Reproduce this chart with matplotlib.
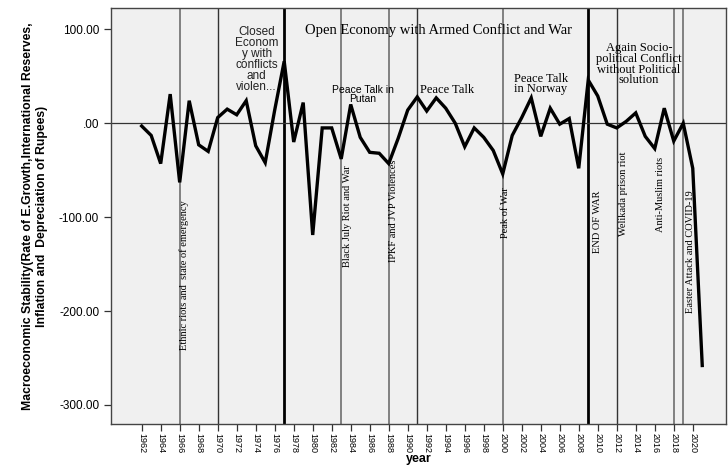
import numpy as np
import matplotlib
matplotlib.use('Agg')
import matplotlib.pyplot as plt

# Данные: годы и индекс макроэкономической стабильности
years = np.arange(1962, 2022)
stability = [-3, -13, -43, 31, -63, 24, -23, -30, 6, 15,
             9, 24, -24, -42, 14, 66, -20, 22, -119, -5,
             -5, -38, 20, -15, -31, -32, -43, -16, 14, 28,
             13, 27, 16, 0, -25, -5, -15, -29, -54, -13,
             6, 27, -14, 16, -1, 5, -48, 46, 29, -1,
             -5, 2, 11, -14, -27, 16, -19, 0, -48, -258]

# Подписанные события (вертикальные линии с текстом)
event_years = [1966, 1983, 1988, 2000, 2009, 2012, 2018, 2019]
event_labels = ['Ethnic riots and  state of emergency', 'Black July Riot and War',
                'IPKF and JVP Violences', 'Peak of War', 'END OF WAR',
                'Welikada prison riot', 'Anti-Muslim riots', 'Easter Attack and COVID-19']
# Линии-границы периодов без подписи
period_years = [1970, 1977, 1991]

# Подписи периодов сверху
period_labels = ['Closed\nEconom\ny with\nconflicts\nand\nviolen...',
                 'Open Economy with Armed Conflict and War',
                 'Peace Talk in\nPutan', 'Peace Talk', 'Peace Talk\nin Norway',
                 'Again Socio-\npolitical Conflict\nwithout Political\nsolution']

xticks = np.arange(1962, 2021, 2)
yticks = [-300, -200, -100, 0, 100]
ytick_labels = ['-300.00', '-200.00', '-100.00', '.00', '100.00']

fig = plt.figure(figsize=(7.28, 4.70), dpi=100)
ax = fig.add_axes([111/728, 1 - 424/470, 615/728, 416/470])
ax.set_facecolor('#f0f0f0')

# стили вертикальных линий
line_style = {1966: ('#808080', 1.4), 1970: ('#333333', 1.0), 1977: ('black', 2.0),
              1983: ('#808080', 1.4), 1988: ('#808080', 1.4), 1991: ('#333333', 1.0),
              2000: ('#808080', 1.4), 2009: ('black', 2.0), 2012: ('#333333', 1.0),
              2018: ('#808080', 1.4), 2019: ('#808080', 1.4)}
for yr in sorted(event_years + period_years):
    c, lw = line_style[yr]
    ax.axvline(yr, color=c, lw=lw, zorder=1)

ax.axhline(0, color='#333333', lw=0.9, zorder=1)

ax.plot(years, stability, color='black', lw=2.4, zorder=3, solid_joinstyle='miter')

# подписи событий (x-смещение, нижний край текста)
ev_pos = [(0.45, -242), (0.65, -153), (0.55, -148), (0.3, -122),
          (0.95, -138), (0.75, -120), (-1.35, -116), (0.8, -202)]
for yr, lab, (dx, yb) in zip(event_years, event_labels, ev_pos):
    ax.text(yr + dx, yb, lab, rotation=90, ha='center', va='bottom',
            family='Liberation Serif', fontsize=7.5, zorder=4)

serif = dict(family='Liberation Serif', fontsize=9, linespacing=0.85, zorder=4)
sans = dict(family='Liberation Sans', fontsize=8.5, linespacing=0.9, color='#222222', zorder=4)
ax.text(1974.1, 104, period_labels[0], ha='center', va='top', **sans)
ax.text(1993.2, 99, period_labels[1], ha='center', va='center',
        family='Liberation Serif', fontsize=10.5, zorder=4)
ax.text(1985.3, 41, period_labels[2], ha='center', va='top',
        family='Liberation Sans', fontsize=7.5, linespacing=0.85, zorder=4)
ax.text(1994.1, 35, period_labels[3], ha='center', va='center', **serif)
ax.text(2001.2, 54, period_labels[4], ha='left', va='top', **serif)
ax.text(2014.35, 86, period_labels[5], ha='center', va='top', **serif)

ax.set_xlim(1958.77, 2023.5)
ax.set_ylim(-320.3, 122.7)
ax.set_xticks(xticks)
ax.set_xticklabels([str(x) for x in xticks], rotation=270,
                   family='Liberation Sans', fontsize=6.5)
ax.set_yticks(yticks)
ax.set_yticklabels(ytick_labels, family='Liberation Sans', fontsize=8.5)
ax.tick_params(direction='out', length=5, width=0.9, color='#333333')
ax.tick_params(axis='x', pad=1.5)

for s in ax.spines.values():
    s.set_color('#444444')
    s.set_linewidth(1.0)

ax.set_ylabel('Macroeconomic Stability(Rate of E.Growth,International Reserves,\n'
              'Inflation and  Depreciation of Rupees)',
              family='Liberation Sans', fontsize=8.8, fontweight='bold', labelpad=8)
ax.set_xlabel('year', family='Liberation Sans', fontsize=9, fontweight='bold', labelpad=0)

fig.savefig('out.png', dpi=100)
